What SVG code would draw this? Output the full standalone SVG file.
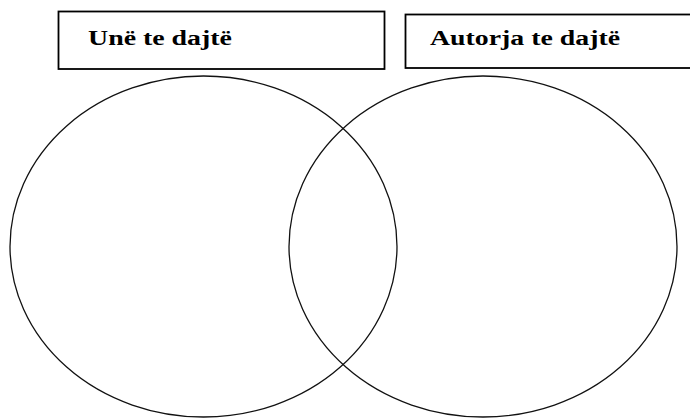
<svg xmlns="http://www.w3.org/2000/svg" width="690" height="419" viewBox="0 0 690 419">
<style>
.box{fill:#fff;stroke:#000;stroke-width:1.8}
.lbl{font-family:"Liberation Serif","Times New Roman",serif;font-weight:bold;font-size:20px;fill:#000}
.circ{fill:none;stroke:#111;stroke-width:1.3}
</style>
<rect width="690" height="419" fill="#fff"/>
<g id="left-set">
<ellipse class="circ" cx="203.5" cy="246.5" rx="193.5" ry="170.5"/>
</g>
<g id="right-set">
<ellipse class="circ" cx="483" cy="246.5" rx="194" ry="170.5"/>
</g>
<g id="label-left">
<rect class="box" x="58.5" y="11.5" width="326" height="57.5"/>
<text class="lbl" x="88" y="45" textLength="144" lengthAdjust="spacingAndGlyphs">Unë te dajtë</text>
</g>
<g id="label-right">
<rect class="box" x="405.5" y="14.5" width="300" height="53.5"/>
<text class="lbl" x="430" y="45" textLength="190" lengthAdjust="spacingAndGlyphs">Autorja te dajtë</text>
</g>
<g id="connectors"/>
</svg>
